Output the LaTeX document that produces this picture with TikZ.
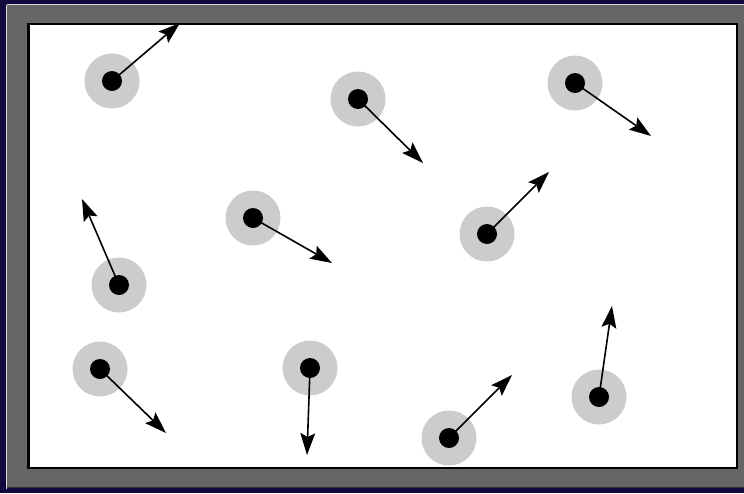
\documentclass[tikz,border=0pt]{standalone}
\usetikzlibrary{calc}
\definecolor{bgnavy}{RGB}{16,10,62}
\definecolor{framegray}{RGB}{102,102,102}
\definecolor{halogray}{RGB}{204,204,204}
\begin{document}
\begin{tikzpicture}[x=1pt,y=-1pt,
  halo/.style={circle,fill=halogray,draw=none,minimum size=55pt,inner sep=0pt},
  dot/.style={circle,fill=black,draw=none,minimum size=20pt,inner sep=0pt},
  vel/.style={line width=1.6pt},
  headfill/.style={fill=black}]
\fill[bgnavy] (0,0) rectangle (744,493);
\useasboundingbox (0,0) rectangle (744,493);
\fill[framegray] (7,5) rectangle (750,488);
\draw[halogray!70!white,line width=1pt] (6.5,4.5) -- (750,4.5);
\draw[halogray!70!white,line width=1pt] (6.5,4.5) -- (6.5,489);
\draw[black!80,line width=1pt] (7,487.5) -- (750,487.5);
\draw[fill=white,draw=black,line width=2.2pt] (28.5,24) rectangle (737,468);
\foreach \n/\x/\y/\tx/\ty in {
  1/112/81/180/23,
  2/358/99/423/163,
  3/575/83/651/136,
  4/119/285/82/199,
  5/253/218/332/263,
  6/487/234/549/172,
  7/100/369/166/433,
  8/310/368/307/455,
  9/449/438/512/375,
  10/599/397/612/306}{
  \node[halo] (h\n) at (\x,\y) {};
  \node[dot] (d\n) at (\x,\y) {};
  \coordinate (t\n) at (\tx,\ty);
  \coordinate (b\n) at ($(t\n)!22pt!(d\n.center)$);
  \coordinate (m\n) at ($(t\n)!18pt!(d\n.center)$);
  \draw[vel] (d\n.center) -- (m\n);
  \fill[headfill] (t\n) -- ($(b\n)!7.5pt!90:(t\n)$) -- (m\n) -- ($(b\n)!7.5pt!-90:(t\n)$) -- cycle;
}
\end{tikzpicture}
\end{document}
